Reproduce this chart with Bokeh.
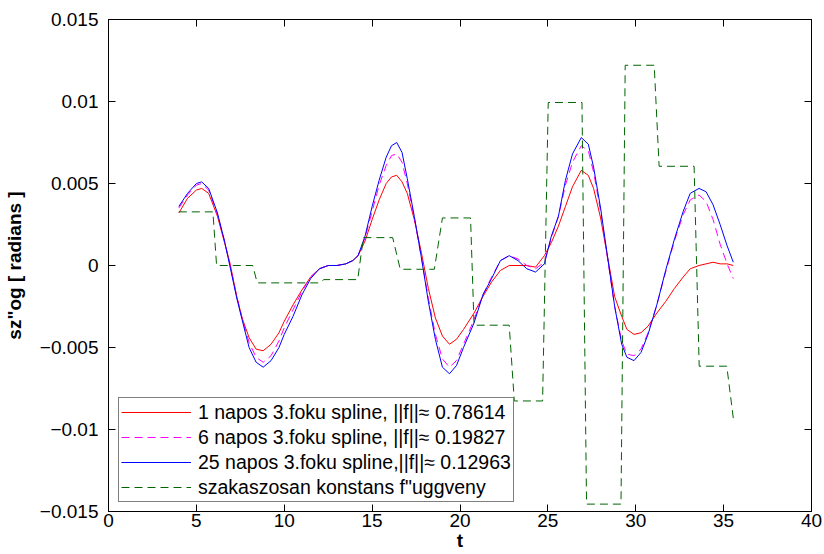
from bokeh.plotting import figure
from bokeh.models import (Range1d, FixedTicker, LinearAxis, Legend, LegendItem,
                          CustomLabelingPolicy)
from bokeh.embed import file_html
from bokeh.resources import INLINE

# ---- data ----
t = [4.0, 4.5, 5.0, 5.3, 5.7, 6.2, 6.6, 6.9, 7.3, 7.6, 8.0, 8.4, 8.8, 9.25, 9.7,
     10.0, 10.5, 11.0, 11.5, 12.0, 12.5, 13.0, 13.5, 13.9, 14.2, 14.6, 15.0, 15.4,
     15.8, 16.1, 16.4, 16.7, 17.0, 17.4, 17.8, 18.2, 18.6, 19.0, 19.4, 19.8, 20.2,
     20.8, 21.3, 21.8, 22.3, 22.8, 23.3, 23.8, 24.3, 24.8, 25.2, 25.6, 26.0, 26.4,
     26.9, 27.3, 27.6, 28.0, 28.4, 28.8, 29.2, 29.5, 29.9, 30.3, 30.7, 31.2, 31.7,
     32.2, 32.7, 33.1, 33.6, 34.0, 34.4, 34.8, 35.2, 35.55]

spline_1 = [0.0032, 0.0041, 0.0046, 0.0047, 0.0044, 0.0030, 0.0014, 0.0002, -0.0019,
            -0.0032, -0.0044, -0.0051, -0.0052, -0.0048, -0.0041, -0.0034, -0.0024,
            -0.0015, -0.0007, -0.0002, 0.0000, 0.0000, 0.0001, 0.0003, 0.0006, 0.0015,
            0.0028, 0.0040, 0.0050, 0.0054, 0.0055, 0.0051, 0.0044, 0.0028, 0.0008,
            -0.0014, -0.0032, -0.0043, -0.0048, -0.0045, -0.0039, -0.0029, -0.0019,
            -0.0010, -0.0003, 0.0000, 0.0000, 0.0000, -0.0001, 0.0006, 0.0014, 0.0024,
            0.0036, 0.0048, 0.0058, 0.0055, 0.0047, 0.0029, 0.0005, -0.0019, -0.0031,
            -0.0039, -0.0042, -0.0041, -0.0037, -0.0029, -0.0022, -0.0014, -0.0007,
            -0.0002, 0.0000, 0.0001, 0.0002, 0.0001, 0.0001, 0.0000]

spline_6 = [0.0035, 0.0043, 0.0049, 0.0050, 0.0046, 0.0031, 0.0015, 0.0001, -0.0019,
            -0.0032, -0.0047, -0.0056, -0.0059, -0.0055, -0.0046, -0.0038, -0.0027,
            -0.0016, -0.0007, -0.0002, 0.0000, 0.0000, 0.0001, 0.0003, 0.0006, 0.0017,
            0.0033, 0.0049, 0.0061, 0.0067, 0.0068, 0.0063, 0.0050, 0.0029, 0.0005,
            -0.0020, -0.0042, -0.0057, -0.0062, -0.0058, -0.0048, -0.0033, -0.0018,
            -0.0007, 0.0003, 0.0006, 0.0004, 0.0000, -0.0002, 0.0002, 0.0017, 0.0030,
            0.0049, 0.0063, 0.0073, 0.0070, 0.0057, 0.0033, 0.0004, -0.0025, -0.0046,
            -0.0054, -0.0055, -0.0051, -0.0041, -0.0024, -0.0004, 0.0015, 0.0031,
            0.0040, 0.0043, 0.0039, 0.0028, 0.0013, 0.0001, -0.0008]

spline_25 = [0.0036, 0.0044, 0.0050, 0.0051, 0.0047, 0.0032, 0.0015, 0.0000, -0.0020,
             -0.0033, -0.0050, -0.0059, -0.0062, -0.0058, -0.0050, -0.0042, -0.0031,
             -0.0018, -0.0008, -0.0002, 0.0000, 0.0000, 0.0001, 0.0003, 0.0006, 0.0018,
             0.0036, 0.0052, 0.0066, 0.0073, 0.0075, 0.0069, 0.0053, 0.0030, 0.0005,
             -0.0022, -0.0045, -0.0062, -0.0066, -0.0061, -0.0050, -0.0035, -0.0018,
             -0.0008, 0.0003, 0.0006, 0.0003, -0.0002, -0.0004, 0.0001, 0.0018, 0.0030,
             0.0052, 0.0068, 0.0078, 0.0074, 0.0060, 0.0035, 0.0005, -0.0025, -0.0048,
             -0.0056, -0.0058, -0.0053, -0.0042, -0.0024, -0.0003, 0.0016, 0.0033,
             0.0044, 0.0047, 0.0045, 0.0037, 0.0025, 0.0012, 0.0002]

step_t = [4.0, 5.94, 6.15, 8.21, 8.46, 12.0, 12.25, 14.18, 14.5, 16.17, 16.6, 18.54,
          19.0, 20.6, 20.8, 22.8, 23.09, 24.7, 25.02, 26.94, 27.2, 29.16, 29.4, 31.05,
          31.33, 33.32, 33.61, 35.18, 35.56]
step_v = [0.00327, 0.00327, 0.0, 0.0, -0.00106, -0.00106, -0.00086, -0.00086, 0.0017,
          0.0017, -0.00023, -0.00023, 0.0029, 0.0029, -0.00364, -0.00364, -0.00826,
          -0.00826, 0.00994, 0.00994, -0.01455, -0.01455, 0.01221, 0.01221, 0.00605,
          0.00605, -0.00614, -0.00614, -0.00939]

x_ticks = [0, 5, 10, 15, 20, 25, 30, 35, 40]
y_ticks = [-0.015, -0.01, -0.005, 0, 0.005, 0.01, 0.015]
y_tick_labels = ["\u22120.015", "\u22120.01", "\u22120.005", "0", "0.005", "0.01", "0.015"]

legend_labels = ["1 napos 3.foku spline, ||f||\u2248 0.78614",
                 "6 napos 3.foku spline, ||f||\u2248 0.19827",
                 "25 napos 3.foku spline,||f||\u2248 0.12963",
                 "szakaszosan konstans f\"uggveny"]

x_label = "t"
y_label = "sz\"og [ radians ]"

FONT = "Liberation Sans"
FS = "19px"

p = figure(width=824, height=554, output_backend="svg", toolbar_location=None,
           x_range=Range1d(0, 40), y_range=Range1d(-0.015, 0.015),
           min_border_left=107, min_border_right=13, min_border_top=19,
           min_border_bottom=43)
p.background_fill_color = "white"
p.border_fill_color = "white"
p.outline_line_color = "black"
p.outline_line_width = 1
p.outline_line_alpha = 1
p.xgrid.visible = False
p.ygrid.visible = False

r1 = p.line(t, spline_1, line_color="#ff0000", line_width=1)
r2 = p.line(t, spline_6, line_color="#ff00ff", line_width=1, line_dash="8 5")
r3 = p.line(t, spline_25, line_color="#0000ff", line_width=1)
r4 = p.line(step_t, step_v, line_color="#006400", line_width=1, line_dash="8 5")

for ax in p.xaxis:
    ax.ticker = FixedTicker(ticks=x_ticks)
for ax in p.yaxis:
    ax.ticker = FixedTicker(ticks=y_ticks)
    ax.major_label_overrides = {v: s for v, s in zip(y_ticks, y_tick_labels)}

for ax in list(p.xaxis) + list(p.yaxis):
    ax.major_tick_in = 7
    ax.major_tick_out = 0
    ax.minor_tick_in = 0
    ax.minor_tick_out = 0
    ax.major_label_text_font = FONT
    ax.major_label_text_font_size = FS
    ax.major_label_text_color = "black"
    ax.axis_line_color = "black"
    ax.major_tick_line_color = "black"
    ax.axis_label_text_font = FONT
    ax.axis_label_text_font_size = FS
    ax.axis_label_text_font_style = "bold"
    ax.axis_label_text_color = "black"

p.xaxis.axis_label = x_label
p.xaxis.major_label_standoff = 2
p.xaxis.axis_label_standoff = 0
p.yaxis.axis_label = y_label
p.yaxis.major_label_standoff = 10
p.yaxis.axis_label_standoff = 12

no_labels = CustomLabelingPolicy(code="""
    const all = [...indices]
    for (const i of all) { indices.unset(i) }
    return indices
""")

top = LinearAxis(ticker=FixedTicker(ticks=x_ticks), major_label_policy=no_labels,
                 major_tick_in=7, major_tick_out=0, minor_tick_in=0, minor_tick_out=0,
                 major_label_standoff=0, major_label_text_font_size="0px")
right = LinearAxis(ticker=FixedTicker(ticks=y_ticks), major_label_policy=no_labels,
                   major_tick_in=7, major_tick_out=0, minor_tick_in=0, minor_tick_out=0,
                   major_label_standoff=0, major_label_text_font_size="0px")
p.add_layout(top, "above")
p.add_layout(right, "right")

legend = Legend(items=[LegendItem(label=legend_labels[0], renderers=[r1]),
                       LegendItem(label=legend_labels[1], renderers=[r2]),
                       LegendItem(label=legend_labels[2], renderers=[r3]),
                       LegendItem(label=legend_labels[3], renderers=[r4])],
                location=(10, 9), margin=0, padding=2, spacing=1,
                glyph_width=70, glyph_height=24, label_height=24, label_standoff=7,
                label_text_font=FONT, label_text_font_size="19.5px",
                label_text_color="black",
                border_line_color="black", border_line_width=1,
                background_fill_color="white", background_fill_alpha=1)
p.add_layout(legend, "center")

open("out.html", "w").write(file_html(p, INLINE))
